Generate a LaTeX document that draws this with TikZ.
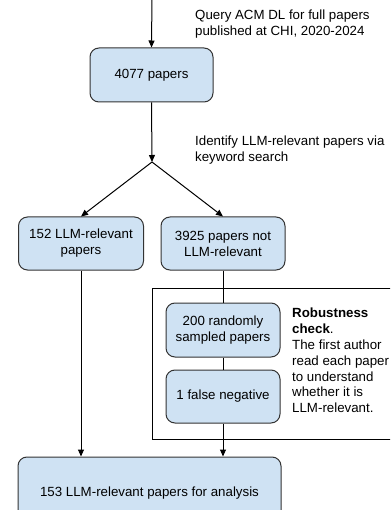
\documentclass[tikz,border=0pt]{standalone}
\usepackage{fontspec}
\setmainfont{Liberation Sans}
\usetikzlibrary{arrows.meta}
\definecolor{boxfill}{HTML}{CFE2F3}
\definecolor{boxline}{HTML}{333333}
\begin{document}
\begin{tikzpicture}[x=1pt,y=-1pt,
  flowbox/.style={draw=boxline,fill=boxfill,rounded corners=9pt,line width=1pt,
    align=center,inner sep=0pt,font=\fontsize{13.3}{16}\selectfont},
  conn/.style={line width=1pt,draw=black},
  arr/.style={conn,-{Triangle[length=7pt,width=6pt]}},
  note/.style={anchor=north west,align=left,inner sep=0pt,font=\fontsize{13.3}{16}\selectfont}]
\path[use as bounding box] (0,0) rectangle (390,510);
\clip (0,0) rectangle (390,510);
% robustness frame
\draw[line width=1pt,draw=black] (152,288) rectangle (400,439);
% boxes
\node[flowbox,minimum width=123pt,minimum height=54pt] (n4077) at (151.5,75) {4077 papers};
\node[flowbox,minimum width=125pt,minimum height=53pt] (n152) at (81,243.5) {152 LLM-relevant\\papers};
\node[flowbox,minimum width=124pt,minimum height=53pt] (n3925) at (223,243.5) {3925 papers not\\LLM-relevant};
\node[flowbox,minimum width=114pt,minimum height=54pt] (n200) at (223,330) {200 randomly\\sampled papers};
\node[flowbox,minimum width=114pt,minimum height=53pt] (nfalse) at (223,396.5) {1 false negative};
\node[flowbox,minimum width=263pt,minimum height=73pt] (nfinal) at (149.5,493.5) {153 LLM-relevant papers for analysis};
% coordinates
\coordinate (top) at (152,-5);
\coordinate (split) at (152,162);
% texts
\node[note] (q) at (195,10) {Query ACM DL for full papers\\published at CHI, 2020-2024};
\node[note] (kw) at (195,135.5) {Identify LLM-relevant papers via\\keyword search};
\node[note,font=\fontsize{13.3}{15.8}\selectfont] (rb) at (292,308) {\textbf{Robustness}\\\textbf{check}.\\The first author\\read each paper\\to understand\\whether it is\\LLM-relevant.};
% connectors
\draw[arr] (top) -- (n4077.north);
\draw[arr] (n4077.south) -- (split);
\draw[arr] (split) -- (n152.north);
\draw[arr] (split) -- (n3925.north);
\draw[arr] (n152.south) -- (n152.south |- nfinal.north);
\draw[conn] (n3925.south) -- (n200.north);
\draw[conn] (n200.south) -- (nfalse.north);
\draw[arr] (nfalse.south) -- (nfalse.south |- nfinal.north);
\end{tikzpicture}
\end{document}
